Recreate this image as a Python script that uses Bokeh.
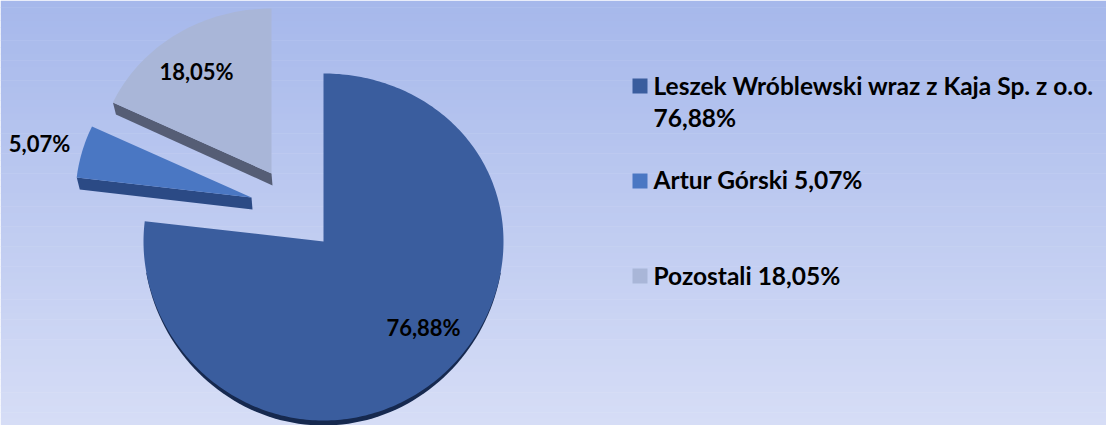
import math
from bokeh.core.properties import value
from bokeh.embed import file_html
from bokeh.models import Range1d
from bokeh.plotting import figure
from bokeh.resources import INLINE

names = ["Leszek Wróblewski wraz z Kaja Sp. z o.o.", "Artur Górski", "Pozostali"]
shares = [76.88, 5.07, 18.05]
share_labels = ["76,88%", "5,07%", "18,05%"]

face_colors = ["#3a5d9e", "#4a77c3", "#a9b6d8"]
side_colors = ["#16294f", "#2b4a85", "#555d75"]

W, H = 1106, 425
FONT = "Lato"

p = figure(width=W, height=H, output_backend="svg", toolbar_location=None,
           x_range=Range1d(0, W), y_range=Range1d(H, 0), min_border=0)
p.axis.visible = False
p.grid.visible = False
p.outline_line_color = None

# background gradient
top = (166, 184, 235)
bot = (214, 221, 246)
n = 64
ts, bs, cs = [], [], []
for i in range(n):
    f = i / (n - 1)
    ts.append(i * H / n)
    bs.append((i + 1) * H / n + 0.5)
    cs.append("#%02x%02x%02x" % tuple(round(a + (b - a) * f) for a, b in zip(top, bot)))
p.quad(left=0, right=W, top=ts, bottom=bs, fill_color=cs, line_color=None)


def rim(cx, cy, rx, ry_up, ry_down, deg):
    t = math.radians(deg)
    c = math.cos(t)
    a = (ry_up + ry_down) / 2
    b = (ry_down - ry_up) / 2
    return cx + rx * math.sin(t), cy - (a * c - b * c * c)


geom = [
    dict(cx=323, cy=241, rx=180, up=168, down=179),
    dict(cx=251, cy=197, rx=176, up=165, down=175),
    dict(cx=271, cy=173, rx=175, up=165, down=175),
]
label_xy = [(423, 327), (39, 143), (196, 71)]
depth = (3, 12)

start = 0.0
total = sum(shares)
for share, g, face, side in zip(shares, geom, face_colors, side_colors):
    end = start + 360 * share / total
    steps = max(4, int(end - start))
    pts = [rim(g["cx"], g["cy"], g["rx"], g["up"], g["down"], start + (end - start) * k / steps)
           for k in range(steps + 1)]
    if share == max(shares):
        # thin crescent of the main slice's rim, along its lower arc only
        low = [rim(g["cx"], g["cy"], g["rx"], g["up"], g["down"], d) for d in range(100, 261, 2)]
        drop = [5 * max(0.0, -math.cos(math.radians(d))) for d in range(100, 261, 2)]
        p.patch([x for x, _ in low], [y + s for (_, y), s in zip(low, drop)],
                fill_color=side, line_color=None)
    else:
        ox, oy = pts[0]
        p.patch([ox, g["cx"], g["cx"] + depth[0] - 2, ox + depth[0]],
                [oy, g["cy"], g["cy"] + depth[1], oy + depth[1]],
                fill_color=side, line_color=None)
    p.patch([g["cx"]] + [x for x, _ in pts], [g["cy"]] + [y for _, y in pts],
            fill_color=face, line_color=None)
    start = end

p.text(x=[a for a, _ in label_xy], y=[b for _, b in label_xy], text=share_labels,
       text_font=value(FONT), text_font_style="bold", text_font_size="22px",
       text_align="center", text_baseline="middle", text_color="#000000")

# legend
legend_y = [85.5, 180.5, 275.5]
p.quad(left=632, right=647, top=[y - 7.5 for y in legend_y], bottom=[y + 7.5 for y in legend_y],
       fill_color=face_colors, line_color=None)
legend_lines = [names[0], share_labels[0], f"{names[1]} {share_labels[1]}", f"{names[2]} {share_labels[2]}"]
p.text(x=[653] * 4, y=[85, 117, 179, 275], text=legend_lines,
       text_font=value(FONT), text_font_style="bold", text_font_size="24.5px",
       text_align="left", text_baseline="middle", text_color="#000000")

open("out.html", "w").write(file_html(p, INLINE))
